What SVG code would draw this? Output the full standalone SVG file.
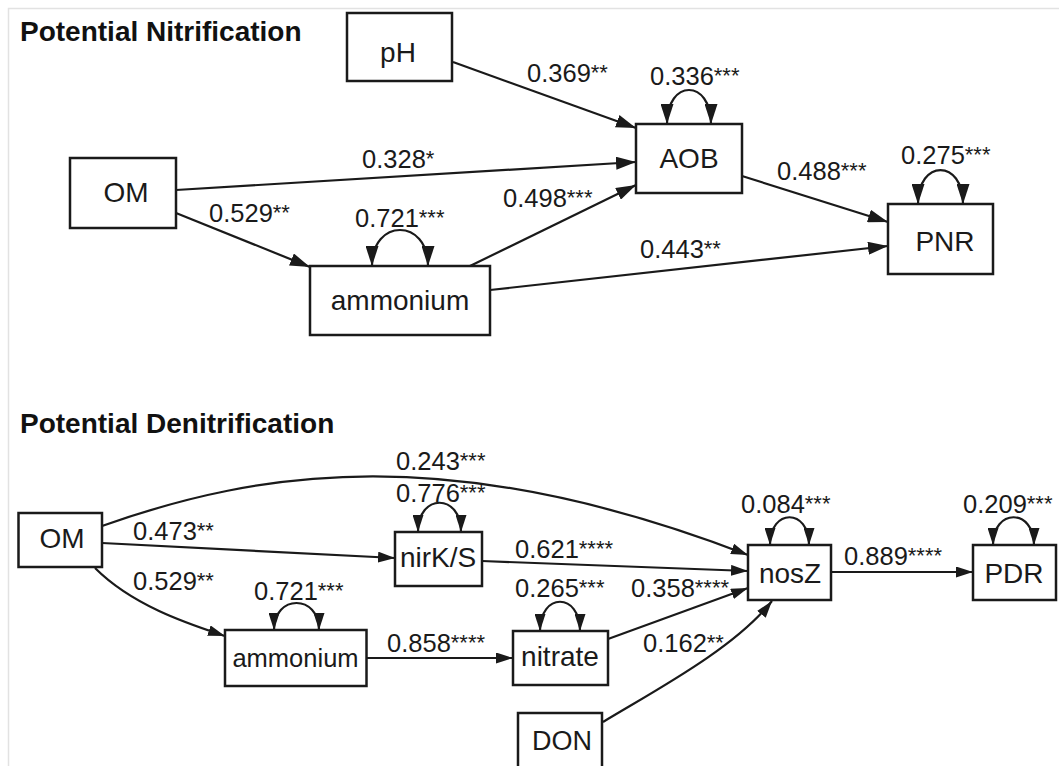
<svg xmlns="http://www.w3.org/2000/svg" width="1059" height="766" viewBox="0 0 1059 766">
<defs>
<style>
.bg{fill:#fff}
.frame{stroke:#e2e2e2;stroke-width:1.5;fill:none}
.title{font-family:"Liberation Sans",Arial,sans-serif;font-weight:bold;font-size:28px;fill:#111}
.box{fill:#fff;stroke:#1a1a1a;stroke-width:2.5}
.nt{font-family:"Liberation Sans",Arial,sans-serif;font-size:28px;fill:#1a1a1a;text-anchor:middle}
.lb{font-family:"Liberation Sans",Arial,sans-serif;font-size:25.5px;fill:#1a1a1a}
.st{font-size:22px}
.e{fill:none;stroke:#1a1a1a;stroke-width:2.2}
.top{marker-end:url(#a1)}
.topl{marker-start:url(#a1);marker-end:url(#a1)}
.bot{marker-end:url(#a2)}
.botl{marker-start:url(#a2);marker-end:url(#a2)}
</style>
<marker id="a1" markerWidth="20" markerHeight="13" refX="20" refY="6.5" orient="auto-start-reverse" markerUnits="userSpaceOnUse"><path d="M0,0 L20,6.5 L0,13 z" fill="#1a1a1a"/></marker>
<marker id="a2" markerWidth="17" markerHeight="11" refX="17" refY="5.5" orient="auto-start-reverse" markerUnits="userSpaceOnUse"><path d="M0,0 L17,5.5 L0,11 z" fill="#1a1a1a"/></marker>
</defs>
<rect class="bg" x="0" y="0" width="1059" height="766"/>
<path class="frame" d="M8.5,766 L8.5,8.5 L1059,8.5"/>

<text class="title" x="20" y="41">Potential Nitrification</text>
<text class="title" x="20" y="433">Potential Denitrification</text>

<g id="connectors">
<!-- top -->
<path class="e top" d="M453,62 L636,128"/>
<path class="e top" d="M176,190 L636,162"/>
<path class="e top" d="M176,213 L310,267"/>
<path class="e top" d="M470,266 L636,185"/>
<path class="e top" d="M490,290 L888,246"/>
<path class="e top" d="M742,176 L888,222"/>
<path class="e topl" d="M372,266 C372,218 428,218 428,266"/>
<path class="e topl" d="M667,124 C667,78.7 711,78.7 711,124"/>
<path class="e topl" d="M918,204 C918,158.7 963,158.7 963,204"/>
<!-- bottom -->
<path class="e bot" d="M102,526 C260,470 450,440 748,555"/>
<path class="e bot" d="M102,543 L395,558"/>
<path class="e bot" d="M95,568 C134,607 192,625 225,636"/>
<path class="e bot" d="M366.5,658 L513,658"/>
<path class="e bot" d="M482,561 L748,571"/>
<path class="e bot" d="M608,639 L748,588"/>
<path class="e bot" d="M603,722 C654,691 734,649 772,601"/>
<path class="e bot" d="M831,572 L973,572"/>
<path class="e botl" d="M418,532 C418,493 461,493 461,532"/>
<path class="e botl" d="M274,630 C274,594 319,594 319,630"/>
<path class="e botl" d="M540,631 C540,592 580,592 580,631"/>
<path class="e botl" d="M770,545 C770,508 809,508 809,545"/>
<path class="e botl" d="M993,545 C993,508 1034,508 1034,545"/>
</g>

<g id="edge-labels">
<text class="lb" x="527" y="82">0.369<tspan class="st" dy="-2">**</tspan></text>
<text class="lb" x="650" y="85">0.336<tspan class="st" dy="-2">***</tspan></text>
<text class="lb" x="362" y="168">0.328<tspan class="st" dy="-2">*</tspan></text>
<text class="lb" x="209" y="222">0.529<tspan class="st" dy="-2">**</tspan></text>
<text class="lb" x="355" y="227">0.721<tspan class="st" dy="-2">***</tspan></text>
<text class="lb" x="503" y="207">0.498<tspan class="st" dy="-2">***</tspan></text>
<text class="lb" x="777" y="180">0.488<tspan class="st" dy="-2">***</tspan></text>
<text class="lb" x="901" y="164">0.275<tspan class="st" dy="-2">***</tspan></text>
<text class="lb" x="640" y="258">0.443<tspan class="st" dy="-2">**</tspan></text>

<text class="lb" x="396" y="470">0.243<tspan class="st" dy="-2">***</tspan></text>
<text class="lb" x="396" y="502">0.776<tspan class="st" dy="-2">***</tspan></text>
<text class="lb" x="133" y="540">0.473<tspan class="st" dy="-2">**</tspan></text>
<text class="lb" x="133" y="590">0.529<tspan class="st" dy="-2">**</tspan></text>
<text class="lb" x="254" y="600">0.721<tspan class="st" dy="-2">***</tspan></text>
<text class="lb" x="387" y="652">0.858<tspan class="st" dy="-2">****</tspan></text>
<text class="lb" x="515" y="558">0.621<tspan class="st" dy="-2">****</tspan></text>
<text class="lb" x="515" y="597">0.265<tspan class="st" dy="-2">***</tspan></text>
<text class="lb" x="631" y="597">0.358<tspan class="st" dy="-2">****</tspan></text>
<text class="lb" x="643" y="652">0.162<tspan class="st" dy="-2">**</tspan></text>
<text class="lb" x="741" y="513">0.084<tspan class="st" dy="-2">***</tspan></text>
<text class="lb" x="844" y="565">0.889<tspan class="st" dy="-2">****</tspan></text>
<text class="lb" x="963" y="513">0.209<tspan class="st" dy="-2">***</tspan></text>
</g>

<g id="n-pH"><rect class="box" x="347" y="13" width="105" height="68"/><text class="nt" x="398" y="62" font-size="29">pH</text></g>
<g id="n-OM1"><rect class="box" x="70" y="158" width="106" height="70"/><text class="nt" x="126" y="202">OM</text></g>
<g id="n-ammonium1"><rect class="box" x="310" y="266" width="180" height="69"/><text class="nt" x="400" y="310">ammonium</text></g>
<g id="n-AOB"><rect class="box" x="636" y="124" width="106" height="69"/><text class="nt" x="689" y="168">AOB</text></g>
<g id="n-PNR"><rect class="box" x="888" y="204" width="105" height="70"/><text class="nt" x="945" y="251">PNR</text></g>

<g id="n-OM2"><rect class="box" x="18.5" y="513" width="83.5" height="54"/><text class="nt" x="62" y="548">OM</text></g>
<g id="n-nirKS"><rect class="box" x="395" y="532" width="87" height="54"/><text class="nt" x="438" y="567">nirK/S</text></g>
<g id="n-ammonium2"><rect class="box" x="225" y="630" width="141.5" height="56"/><text class="nt" x="295.5" y="667" style="font-size:25.5px">ammonium</text></g>
<g id="n-nitrate"><rect class="box" x="513" y="631" width="95" height="54"/><text class="nt" x="560" y="666">nitrate</text></g>
<g id="n-nosZ"><rect class="box" x="748" y="545" width="83" height="55"/><text class="nt" x="790" y="583">nosZ</text></g>
<g id="n-PDR"><rect class="box" x="973" y="545" width="83" height="55"/><text class="nt" x="1014" y="583">PDR</text></g>
<g id="n-DON"><rect class="box" x="518" y="713" width="84" height="70"/><text class="nt" x="562" y="750" style="font-size:27px">DON</text></g>
</svg>
